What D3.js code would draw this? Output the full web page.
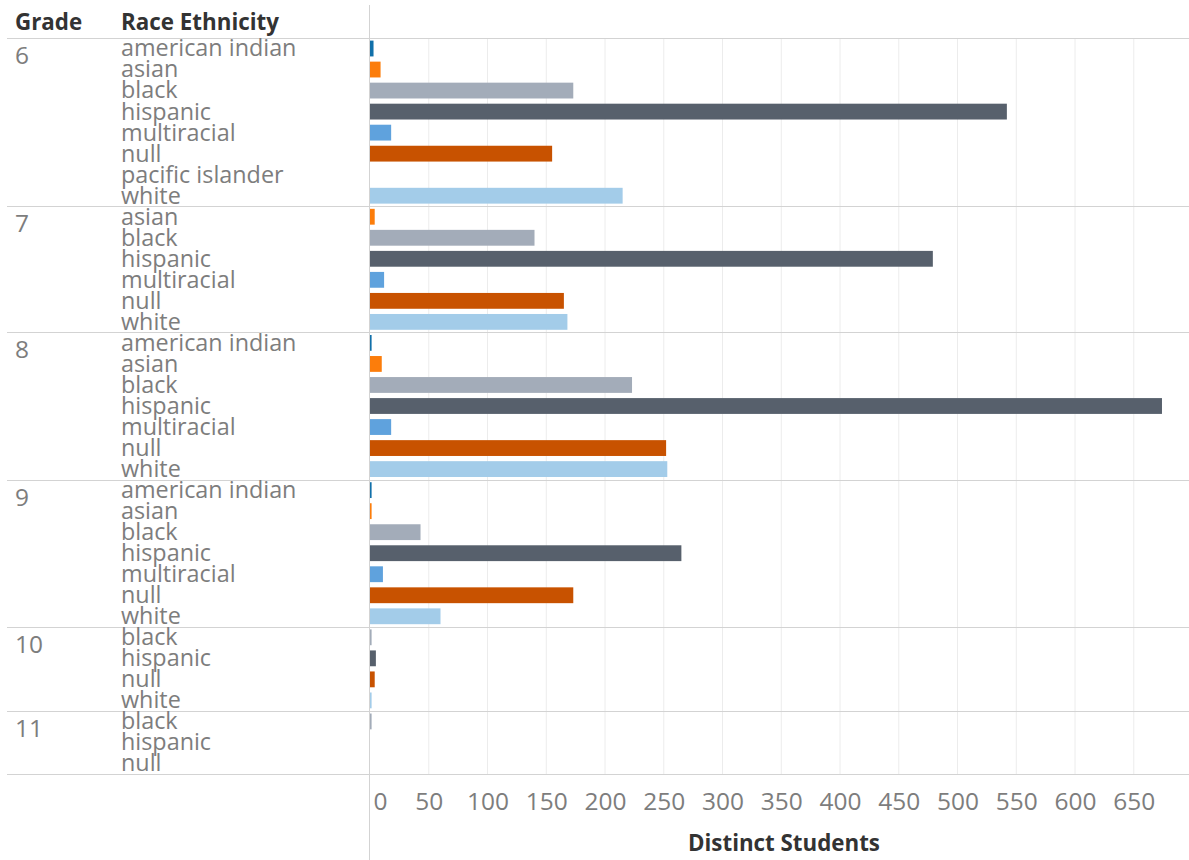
<!DOCTYPE html>
<html>
<head>
<meta charset="utf-8">
<script src="https://cdn.jsdelivr.net/npm/d3@7"></script>
<style>
  html, body { margin: 0; padding: 0; background: #fff; }
  svg { display: block; }
</style>
</head>
<body>
<svg id="chart" width="1189" height="860"></svg>
<script>
// ---- data ----
const grades = ["6", "7", "8", "9", "10", "11"];
const races6  = ["american indian", "asian", "black", "hispanic", "multiracial", "null", "pacific islander", "white"];
const values6 = [3, 9, 173, 542, 18, 155, 0, 215];
const races7  = ["asian", "black", "hispanic", "multiracial", "null", "white"];
const values7 = [4, 140, 479, 12, 165, 168];
const races8  = ["american indian", "asian", "black", "hispanic", "multiracial", "null", "white"];
const values8 = [1, 10, 223, 674, 18, 252, 253];
const races9  = ["american indian", "asian", "black", "hispanic", "multiracial", "null", "white"];
const values9 = [1, 1, 43, 265, 11, 173, 60];
const races10  = ["black", "hispanic", "null", "white"];
const values10 = [1, 5, 4, 1];
const races11  = ["black", "hispanic", "null"];
const values11 = [1, 0, 0];
const tickValues = [0, 50, 100, 150, 200, 250, 300, 350, 400, 450, 500, 550, 600, 650];
const colorDomain = ["american indian", "asian", "black", "hispanic", "multiracial", "null", "pacific islander", "white"];
const colorRange  = ["#1170aa", "#fc7d0b", "#a3acb9", "#57606c", "#5fa2dd", "#c85200", "#7b848f", "#a3cce9"];

const groupRaces  = [races6, races7, races8, races9, races10, races11];
const groupValues = [values6, values7, values8, values9, values10, values11];

// ---- layout ----
const W = 1189, H = 860;
const plotTop = 38, plotBottom = 774;
const x0 = 370;
const svg = d3.select("#chart");
const FONT = "'Open Sans', 'DejaVu Sans', sans-serif";

// flatten rows
const rows = [];
const groups = [];
grades.forEach((g, gi) => {
  const start = rows.length;
  groupRaces[gi].forEach((r, ri) => {
    rows.push({ key: g + "|" + r, grade: g, race: r, value: groupValues[gi][ri] });
  });
  groups.push({ grade: g, start: start, end: rows.length });
});

const y = d3.scaleBand().domain(rows.map(d => d.key)).range([plotTop, plotBottom]).paddingInner(0).paddingOuter(0);
const rowH = y.bandwidth();
const x = d3.scaleLinear().domain([0, 697]).range([x0, W]);
const color = d3.scaleOrdinal().domain(colorDomain).range(colorRange);

// measure helper for fitting font sizes
function fitSize(text, target, weight) {
  const t = svg.append("text").attr("font-family", FONT).attr("font-size", 20)
    .attr("font-weight", weight || "normal").text(text);
  const w = t.node().getComputedTextLength();
  t.remove();
  return 20 * target / w;
}
const raceSize  = fitSize("american indian", 175.5);
const tickSize  = fitSize("650", 42);
const headSize  = fitSize("Race Ethnicity", 158, "bold");
const titleSize = fitSize("Distinct Students", 192, "bold");

// gridlines
svg.append("g").selectAll("line").data(tickValues.filter(d => d > 0)).join("line")
  .attr("x1", d => x(d)).attr("x2", d => x(d))
  .attr("y1", plotTop).attr("y2", plotBottom)
  .attr("stroke", "#ececec").attr("stroke-width", 1);

// horizontal separators
const sepYs = [plotTop].concat(groups.map(g => plotTop + g.end * rowH));
svg.append("g").selectAll("line").data(sepYs).join("line")
  .attr("x1", 7).attr("x2", W)
  .attr("y1", d => Math.round(d) + 0.5).attr("y2", d => Math.round(d) + 0.5)
  .attr("stroke", "#d3d3d3").attr("stroke-width", 1.2);

// vertical axis line
svg.append("line").attr("x1", x0 - 0.5).attr("x2", x0 - 0.5).attr("y1", 5).attr("y2", H)
  .attr("stroke", "#d3d3d3").attr("stroke-width", 1);

// bars
const barPad = 2.6;
svg.append("g").selectAll("rect").data(rows.filter(d => d.value > 0)).join("rect")
  .attr("x", x(0))
  .attr("y", d => y(d.key) + barPad)
  .attr("width", d => Math.max(x(d.value) - x(0), 1.6))
  .attr("height", rowH - 2 * barPad)
  .attr("fill", d => color(d.race));

// headers
svg.append("text").attr("x", 15).attr("y", 30).attr("font-family", FONT).attr("font-weight", "bold")
  .attr("font-size", headSize).attr("fill", "#333").text("Grade");
svg.append("text").attr("x", 121).attr("y", 30).attr("font-family", FONT).attr("font-weight", "bold")
  .attr("font-size", headSize).attr("fill", "#333").text("Race Ethnicity");

// grade labels
svg.append("g").selectAll("text").data(groups).join("text")
  .attr("x", 15).attr("y", d => plotTop + d.start * rowH + 26)
  .attr("font-family", FONT).attr("font-size", tickSize).attr("fill", "#7d7d7d")
  .text(d => d.grade);

// race labels
svg.append("g").selectAll("text").data(rows).join("text")
  .attr("x", 121).attr("y", d => y(d.key) + rowH - 2.6)
  .attr("font-family", FONT).attr("font-size", raceSize).attr("fill", "#7d7d7d")
  .text(d => d.race);

// x axis
const axis = d3.axisBottom(x).tickValues(tickValues).tickSize(0).tickPadding(0);
const ax = svg.append("g").attr("transform", `translate(0, ${810})`).call(axis);
ax.select(".domain").remove();
ax.selectAll("text")
  .attr("dy", 0).attr("y", 0)
  .attr("font-family", FONT).attr("font-size", tickSize).attr("fill", "#7d7d7d")
  .attr("text-anchor", d => d === 0 ? "start" : "middle")
  .attr("dx", d => d === 0 ? 3 : 0);

// axis title
svg.append("text").attr("x", 784).attr("y", 851).attr("text-anchor", "middle")
  .attr("font-family", FONT).attr("font-weight", "bold").attr("font-size", titleSize)
  .attr("fill", "#333").text("Distinct Students");
</script>
</body>
</html>
